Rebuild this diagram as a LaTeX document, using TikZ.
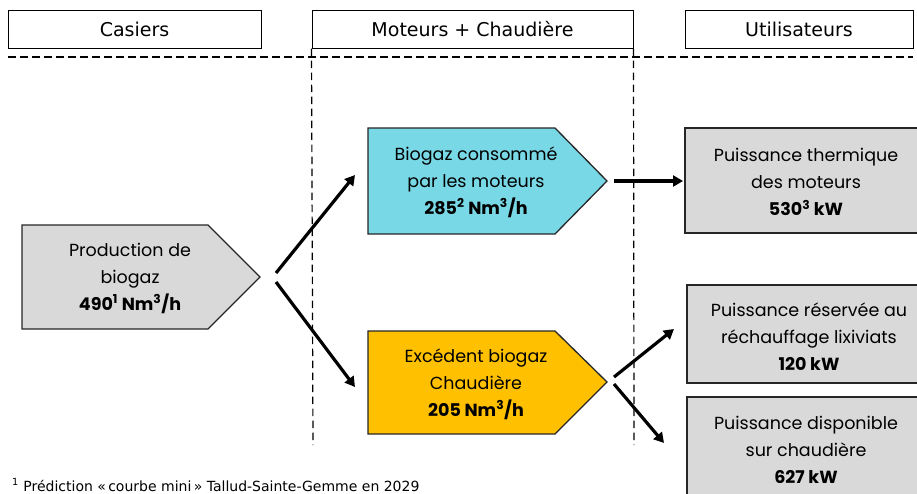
\documentclass[tikz,border=0pt]{standalone}
\usepackage{fontspec}
\setmainfont{Poppins}
\newfontfamily\hdrfont{DejaVu Sans}
\usetikzlibrary{arrows.meta}
\definecolor{boxgray}{RGB}{217,217,217}
\definecolor{boxblue}{RGB}{120,216,230}
\definecolor{boxgold}{RGB}{255,192,0}
\begin{document}
\begin{tikzpicture}[x=1pt,y=-1pt,
  hdr/.style={draw, line width=1pt, inner sep=0pt, font=\hdrfont\fontsize{19}{22}\selectfont},
  sep/.style={line width=1.2pt, dash pattern=on 7.5pt off 4.5pt},
  shp/.style={draw=black!85, line width=1.3pt},
  txt/.style={align=center, inner sep=0pt, font=\fontsize{17.5}{27}\selectfont},
  flow/.style={-{Triangle[length=10pt,width=11pt]}, line width=3.2pt},
]
\useasboundingbox (0,0) rectangle (917,493);
% headers
\node[hdr, minimum width=253pt, minimum height=38pt] (hcas) at (134.5,29) {Casiers};
\node[hdr, minimum width=321pt, minimum height=38pt] (hmot) at (472.5,29) {Moteurs + Chaudière};
\node[hdr, minimum width=228pt, minimum height=38pt] (huti) at (799,29) {Utilisateurs};
% separators
\draw[sep] (8,57) -- (913,57);
\draw[sep] (hmot.south west) -- (313,445);
\draw[sep] (hmot.south east) -- (634,445);
% shapes
\path[shp, fill=boxgray] (22,225) -- (208,225) -- (260,277) -- (208,329) -- (22,329) -- cycle;
\path[shp, fill=boxblue] (368,128) -- (555,128) -- (607,181) -- (555,234) -- (368,234) -- cycle;
\path[shp, fill=boxgold] (368,331) -- (555,331) -- (607,382) -- (555,434) -- (368,434) -- cycle;
\path[shp, fill=boxgray] (685,128) rectangle (925,233);
\path[shp, fill=boxgray] (687,285) rectangle (925,383);
\path[shp, fill=boxgray] (687,397) rectangle (925,505);
% texts
\node[txt] (prod) at (130,278) {Production de\\biogaz\\\textbf{490\textsuperscript{1} Nm\textsuperscript{3}/h}};
\node[txt] (cons) at (476,182) {Biogaz consommé\\par les moteurs\\\textbf{285\textsuperscript{2} Nm\textsuperscript{3}/h}};
\node[txt] (exc) at (476,384) {Excédent biogaz\\Chaudière\\\textbf{205 Nm\textsuperscript{3}/h}};
\node[txt] (therm) at (806,182) {Puissance thermique\\des moteurs\\\textbf{530\textsuperscript{3} kW}};
\node[txt] (res) at (809,337) {Puissance réservée au\\réchauffage lixiviats\\\textbf{120 kW}};
\node[txt] (disp) at (806,450) {Puissance disponible\\sur chaudière\\\textbf{627 kW}};
% arrow anchors
\coordinate (a1s) at (276,273); \coordinate (a1e) at (355,175);
\coordinate (a2s) at (276,282); \coordinate (a2e) at (355,387);
\coordinate (a3s) at (614,181); \coordinate (a3e) at (683,181);
\coordinate (a4s) at (614,377); \coordinate (a4e) at (674,329);
\coordinate (a5s) at (614,384); \coordinate (a5e) at (664,443);
\draw[flow] (a1s) -- (a1e);
\draw[flow] (a2s) -- (a2e);
\draw[flow] (a3s) -- (a3e);
\draw[flow] (a4s) -- (a4e);
\draw[flow] (a5s) -- (a5e);
% footnote
\node[anchor=base west, inner sep=0pt, font=\hdrfont\fontsize{14}{16}\selectfont] (fn) at (12,491) {\textsuperscript{1} Prédiction «\,courbe mini\,» Tallud-Sainte-Gemme en 2029};
\end{tikzpicture}
\end{document}
